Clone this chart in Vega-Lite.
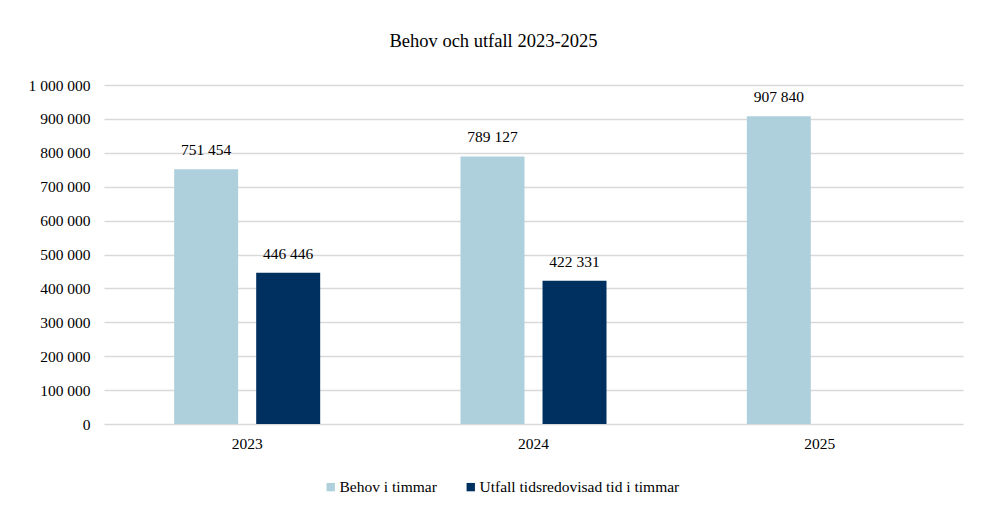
{
  "$schema": "https://vega.github.io/schema/vega-lite/v6.json",
  "autosize": {"type": "none"},
  "width": 859,
  "height": 339,
  "padding": {"left": 104, "top": 85, "right": 18, "bottom": 86},
  "background": "white",
  "config": {
    "locale": {"number": {"decimal": ",", "thousands": " ", "grouping": [3], "currency": ["", " kr"]}},
    "font": "Liberation Serif",
    "view": {"stroke": null},
    "legend": {"labelFont": "Liberation Serif"},
    "axis": {"labelFont": "Liberation Serif"},
    "text": {"font": "Liberation Serif"}
  },
  "title": {"text": "Behov och utfall 2023-2025", "fontSize": 18.5, "font": "Liberation Serif", "fontWeight": "normal", "color": "#000000", "offset": 28, "dx": -40},
  "data": {
    "values": [
      {"year": "2023", "serie": "Behov i timmar", "value": 751454},
      {"year": "2023", "serie": "Utfall tidsredovisad tid i timmar", "value": 446446},
      {"year": "2024", "serie": "Behov i timmar", "value": 789127},
      {"year": "2024", "serie": "Utfall tidsredovisad tid i timmar", "value": 422331},
      {"year": "2025", "serie": "Behov i timmar", "value": 907840}
    ]
  },
  "encoding": {
    "x": {"field": "year", "type": "nominal", "scale": {"paddingInner": 0.49, "paddingOuter": 0.245},
      "axis": {"title": null, "labelAngle": 0, "ticks": false, "domain": false, "labelFontSize": 15.5, "labelColor": "#000000", "labelPadding": 12, "grid": false}},
    "xOffset": {"field": "serie", "type": "nominal", "scale": {"paddingInner": 0.22, "paddingOuter": 0}},
    "y": {"field": "value", "type": "quantitative", "scale": {"domain": [0, 1000000]},
      "axis": {"title": null, "values": [0,100000,200000,300000,400000,500000,600000,700000,800000,900000,1000000], "format": ",d", "labelOverlap": false, "ticks": false, "domain": false, "labelFontSize": 15.5, "labelColor": "#000000", "labelPadding": 14, "gridColor": "#d9d9d9", "gridWidth": 1.5}}
  },
  "layer": [
    {
      "mark": {"type": "bar"},
      "encoding": {
        "color": {"field": "serie", "type": "nominal",
          "scale": {"domain": ["Behov i timmar", "Utfall tidsredovisad tid i timmar"], "range": ["#AED0DC", "#003060"]},
          "legend": {"title": null, "orient": "none", "direction": "horizontal", "legendX": 219, "legendY": 394, "symbolType": "square", "symbolSize": 70, "symbolStrokeWidth": 0, "labelFontSize": 15.5, "labelColor": "#000000", "labelFont": "Liberation Serif", "labelLimit": 0, "columnPadding": 26, "labelOffset": 1}}
      }
    },
    {
      "mark": {"type": "text", "baseline": "bottom", "dy": -11, "fontSize": 15.5, "color": "#000000", "font": "Liberation Serif"},
      "encoding": {"text": {"field": "value", "type": "quantitative", "format": ",d"}}
    }
  ]
}
